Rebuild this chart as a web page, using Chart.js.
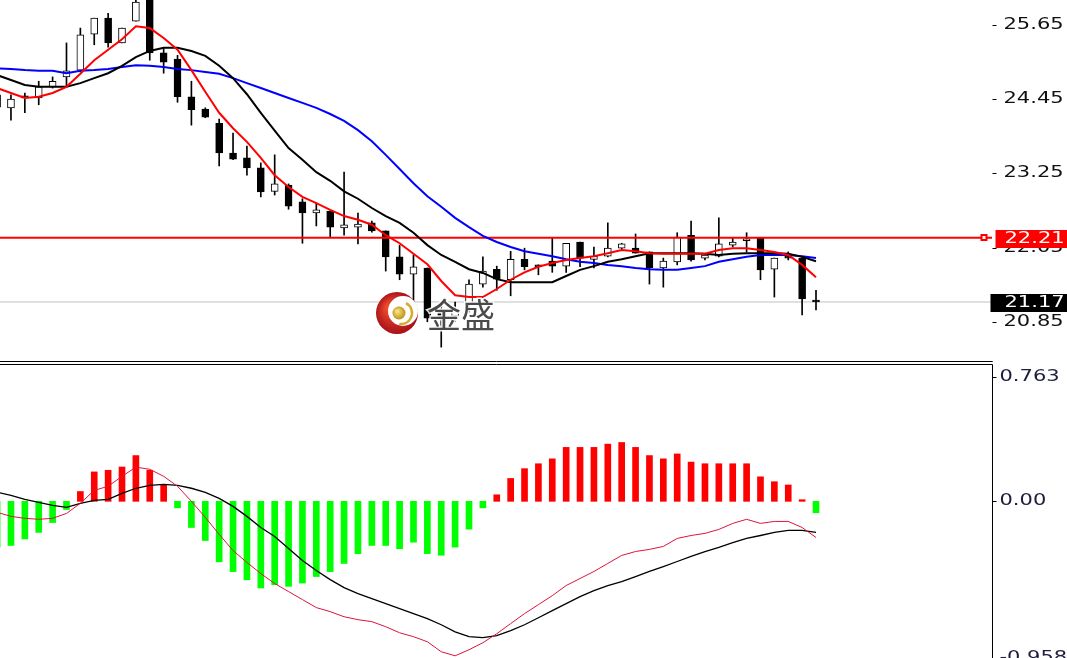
<!DOCTYPE html>
<html>
<head>
<meta charset="utf-8">
<script src="https://cdn.jsdelivr.net/npm/chart.js@4.4.1/dist/chart.umd.min.js"></script>
<style>
    html, body { margin: 0; padding: 0; background: #fff; overflow: hidden; width: 1067px; height: 658px; }
    #top { position: absolute; left: 0; top: 0; width: 1067px; height: 362px; }
    #bot { position: absolute; left: 0; top: 363px; width: 1067px; height: 330px; }
</style>
</head>
<body>
<div id="top"><canvas id="price"></canvas></div>
<div id="bot"><canvas id="macd"></canvas></div>
<script>
// ===== Data (one entry per candle, oldest first) =====
const opens  = [24.52,24.31,24.50,24.47,24.65,24.81,24.92,25.50,25.76,25.36, 25.71,26.18,25.20,25.10,24.49,24.29,24.06,23.58,23.50,23.34,
                22.96,23.06,22.79,22.61,22.64,22.37,22.38,22.45,22.32,21.90, 21.62,21.72,21.04,20.94,21.14,21.46,21.70,21.53,21.86,21.75,
                21.83,21.75,22.14,21.86,21.91,22.04,22.04,21.98,21.72,21.82, 22.25,21.88,21.91,22.09,22.16,22.20,21.70,21.90,21.88,21.19];
const highs  = [24.60,24.52,24.55,24.74,24.81,25.36,25.60,25.76,25.84,25.60, 26.14,26.22,25.28,25.16,24.74,24.31,24.13,23.90,23.69,23.42,
                23.55,23.08,22.84,22.77,22.64,23.27,22.61,22.48,22.32,22.09, 21.93,21.72,21.12,21.17,21.53,21.90,21.75,21.99,22.04,21.77,
                22.20,22.12,22.14,22.06,22.45,22.12,22.27,21.98,21.88,22.29, 22.48,21.95,22.53,22.20,22.29,22.20,21.88,21.98,21.88,21.36];
const lows   = [24.24,24.11,24.23,24.36,24.63,24.65,24.89,25.33,25.29,25.36, 25.71,25.08,24.87,24.40,24.03,24.15,23.37,23.47,23.22,22.87,
                22.90,22.67,22.12,22.40,22.22,22.25,22.11,22.30,21.67,21.53, 21.17,20.85,20.44,20.85,21.01,21.41,21.36,21.27,21.69,21.61,
                21.65,21.65,21.74,21.72,21.90,22.03,21.96,21.46,21.41,21.77, 21.83,21.85,21.90,22.06,21.98,21.53,21.25,21.85,20.96,21.04];
const closes = [24.32,24.45,24.47,24.65,24.74,24.91,25.49,25.76,25.36,25.60, 26.02,25.20,25.05,24.49,24.28,24.16,23.58,23.48,23.34,22.95,
                23.08,22.72,22.61,22.66,22.38,22.42,22.43,22.32,21.90,21.62, 21.74,20.91,20.91,21.04,21.46,21.67,21.54,21.86,21.74,21.74,
                21.75,22.12,21.88,21.91,22.04,22.11,21.96,21.72,21.83,22.22, 21.85,21.93,22.11,22.14,22.17,21.69,21.88,21.88,21.22,21.17];

// moving averages (red = fast, black = middle, blue = slow)
const maRed   = [24.63,24.55,24.47,24.49,24.55,24.65,24.86,25.08,25.25,25.42, 25.63,25.60,25.44,25.25,24.92,24.57,24.23,23.98,23.76,23.50,
                 23.22,23.03,22.87,22.77,22.66,22.56,22.50,22.42,22.25,22.12, 21.95,21.78,21.51,21.28,21.25,21.25,21.38,21.53,21.65,21.74,
                 21.80,21.85,21.88,21.91,21.96,22.01,21.99,21.96,21.95,21.95, 21.95,21.95,22.01,22.04,22.04,22.01,21.98,21.93,21.77,21.57];
const maBlack = [24.84,24.76,24.68,24.65,24.65,24.65,24.71,24.79,24.87,24.99, 25.13,25.23,25.28,25.28,25.23,25.15,24.99,24.79,24.53,24.23,
                 23.94,23.66,23.47,23.27,23.13,22.96,22.84,22.69,22.56,22.45, 22.29,22.09,21.93,21.82,21.70,21.64,21.54,21.49,21.49,21.49,
                 21.49,21.59,21.69,21.75,21.82,21.86,21.91,21.96,21.96,21.96, 21.96,21.95,21.93,21.95,21.96,21.96,21.96,21.95,21.90,21.83];
const maBlue  = [24.95,24.94,24.92,24.91,24.91,24.87,24.91,24.92,24.94,24.97, 25.00,24.99,24.97,24.94,24.92,24.89,24.86,24.79,24.71,24.63,
                 24.55,24.47,24.39,24.31,24.21,24.10,23.95,23.77,23.55,23.32, 23.09,22.88,22.71,22.53,22.38,22.24,22.14,22.06,21.99,21.95,
                 21.91,21.86,21.82,21.80,21.77,21.75,21.72,21.70,21.69,21.69, 21.72,21.75,21.82,21.86,21.90,21.93,21.93,21.93,21.91,21.88];

// MACD panel
const macdHist  = [-0.28,-0.27,-0.23,-0.19,-0.13,-0.05,0.06,0.18,0.19,0.21, 0.28,0.19,0.10,-0.04,-0.16,-0.24,-0.37,-0.43,-0.48,-0.53,
                   -0.51,-0.52,-0.50,-0.46,-0.43,-0.38,-0.32,-0.27,-0.27,-0.29, -0.25,-0.32,-0.33,-0.28,-0.17,-0.04,0.04,0.14,0.20,0.23,
                   0.26,0.33,0.33,0.33,0.35,0.36,0.33,0.28,0.26,0.29, 0.24,0.23,0.23,0.23,0.23,0.15,0.12,0.10,0.01,-0.07];
const macdBlack = [0.055,0.037,0.012,-0.006,-0.025,-0.037,-0.012,0.006,0.012,0.049, 0.080,0.098,0.104,0.098,0.080,0.055,0.018,-0.031,-0.092,-0.160,
                   -0.215,-0.288,-0.362,-0.423,-0.479,-0.528,-0.564,-0.595,-0.626,-0.656, -0.687,-0.718,-0.755,-0.798,-0.828,-0.834,-0.822,-0.791,-0.755,-0.712,
                   -0.669,-0.626,-0.583,-0.546,-0.515,-0.491,-0.460,-0.429,-0.399,-0.368, -0.337,-0.307,-0.282,-0.252,-0.227,-0.209,-0.190,-0.178,-0.178,-0.190];
const macdRed   = [-0.067,-0.092,-0.104,-0.110,-0.104,-0.074,-0.012,0.067,0.092,0.153, 0.209,0.196,0.153,0.092,0.000,-0.098,-0.202,-0.301,-0.374,-0.442,
                   -0.503,-0.552,-0.601,-0.650,-0.675,-0.706,-0.724,-0.736,-0.767,-0.804, -0.828,-0.859,-0.920,-0.945,-0.908,-0.865,-0.810,-0.748,-0.687,-0.632,
                   -0.577,-0.515,-0.472,-0.429,-0.380,-0.331,-0.307,-0.294,-0.276,-0.227, -0.209,-0.196,-0.172,-0.135,-0.110,-0.135,-0.123,-0.123,-0.160,-0.221];

const priceTicks = [25.65, 24.45, 23.25, 22.05, 20.85];
const macdTicks = [0.763, 0, -0.958];
const macdTickLabels = ['0.763', '0.00', '-0.958'];
const levelLine = 22.21;   // red horizontal line
const lastPrice = 21.17;   // grey bid line

const slots = opens.map((_, i) => i);
const X_MIN = 0.21, X_MAX = 71.68;

// ===== helpers =====
function pts(values) {
    return slots.map(i => ({ x: i, y: values[i] }));
}

function stretchText(ctx, text, x, y, color) {
    ctx.save();
    ctx.translate(x, y);
    ctx.scale(1.4, 1);
    ctx.fillStyle = color;
    ctx.fillText(text, 0, 0);
    ctx.restore();
}

// right price axis drawn in the terminal style (wide digits, short ticks, price tags)
const rightAxis = {
    id: 'rightAxis',
    afterDraw(chart, args, opts) {
        const ctx = chart.ctx;
        const s = chart.scales.y;
        const x0 = Math.round(s.left) + 0.5;
        ctx.save();
        ctx.strokeStyle = '#000';
        ctx.lineWidth = 1;
        ctx.beginPath();
        ctx.moveTo(0, opts.sepY);
        ctx.lineTo(x0, opts.sepY);
        ctx.moveTo(x0, opts.sepY);
        ctx.lineTo(x0, chart.height);
        ctx.stroke();

        ctx.font = '15px "DejaVu Sans"';
        ctx.textBaseline = 'middle';
        s.ticks.forEach((t, i) => {
            const y = Math.round(s.getPixelForValue(t.value)) + 0.5;
            ctx.beginPath();
            ctx.moveTo(x0, y);
            ctx.lineTo(x0 + 4, y);
            ctx.stroke();
            stretchText(ctx, opts.labels[i], x0 + opts.gap, y, opts.color);
        });

        (opts.tags || []).forEach(tag => {
            const y = Math.round(s.getPixelForValue(tag.value)) + 1;
            ctx.fillStyle = tag.bg;
            ctx.fillRect(x0 + tag.dx, y - 9, chart.width - x0 - tag.dx, 18);
            stretchText(ctx, tag.value.toFixed(2), x0 + 12, y, '#fff');
            if (tag.marker) {
                ctx.fillStyle = '#fff';
                ctx.strokeStyle = tag.bg;
                ctx.lineWidth = 2;
                ctx.fillRect(x0 - 11, y - 4, 5, 5);
                ctx.strokeRect(x0 - 11, y - 4, 5, 5);
            }
        });
        ctx.restore();
    }
};

// 金盛 watermark
const watermark = {
    id: 'watermark',
    afterDatasetsDraw(chart) {
        const ctx = chart.ctx;
        const cx = 397, cy = 313;
        ctx.save();
        const g = ctx.createRadialGradient(cx - 8, cy - 6, 3, cx, cy, 22);
        g.addColorStop(0, '#ee4a2c');
        g.addColorStop(1, '#a50f18');
        ctx.fillStyle = g;
        ctx.beginPath();
        ctx.arc(cx, cy, 21, 0, Math.PI * 2);
        ctx.fill();
        ctx.fillStyle = '#fff';
        ctx.beginPath();
        ctx.arc(cx + 6, cy - 2, 15, 0, Math.PI * 2);
        ctx.fill();
        ctx.strokeStyle = '#d6ac2e';
        ctx.lineWidth = 2.5;
        ctx.beginPath();
        ctx.arc(cx + 4, cy, 11, -Math.PI * 0.35, Math.PI * 0.55);
        ctx.stroke();
        const g2 = ctx.createRadialGradient(cx, cy - 2, 1, cx + 2, cy, 7);
        g2.addColorStop(0, '#f7e37a');
        g2.addColorStop(1, '#b88d18');
        ctx.fillStyle = g2;
        ctx.beginPath();
        ctx.arc(cx + 2, cy, 6.5, 0, Math.PI * 2);
        ctx.fill();

        ctx.font = '34px "Noto Sans CJK SC"';
        ctx.textBaseline = 'middle';
        ctx.lineWidth = 3;
        ctx.strokeStyle = 'rgba(255,255,255,0.9)';
        ctx.strokeText('金盛', 427, 315);
        ctx.fillStyle = '#4a4a4a';
        ctx.fillText('金盛', 427, 315);
        ctx.restore();
    }
};

const hiddenX = { type: 'linear', min: X_MIN, max: X_MAX, offset: false, display: false };

// ===== price panel =====
new Chart(document.getElementById('price'), {
    type: 'bar',
    data: {
        datasets: [
            {
                type: 'line', data: [{ x: X_MIN, y: lastPrice }, { x: X_MAX, y: lastPrice }],
                borderColor: '#c0c0c0', borderWidth: 1, pointRadius: 0, order: 10
            },
            {
                label: 'wick', grouped: false, order: 9,
                data: slots.map(i => ({ x: i, y: [lows[i], highs[i]] })),
                backgroundColor: '#000', barThickness: 1, borderWidth: 0
            },
            {
                label: 'body', grouped: false, order: 8,
                data: slots.map(i => ({ x: i, y: [opens[i], closes[i]] })),
                backgroundColor: c => closes[c.dataIndex] > opens[c.dataIndex] ? '#fff' : '#000',
                borderColor: '#000', borderWidth: 1, borderSkipped: false,
                barThickness: 7, minBarLength: 2
            },
            {
                type: 'line', data: [{ x: X_MIN, y: levelLine }, { x: X_MAX, y: levelLine }],
                borderColor: '#ff0000', borderWidth: 2, pointRadius: 0, order: 7
            },
            { type: 'line', data: pts(maBlue), borderColor: '#0000ff', borderWidth: 2, pointRadius: 0, order: 3 },
            { type: 'line', data: pts(maBlack), borderColor: '#000', borderWidth: 2, pointRadius: 0, order: 2 },
            { type: 'line', data: pts(maRed), borderColor: '#ff0000', borderWidth: 2, pointRadius: 0, order: 1 }
        ]
    },
    options: {
        responsive: true,
        maintainAspectRatio: false,
        animation: false,
        events: [],
        layout: { padding: { left: 0, right: 0, top: 0, bottom: 2 }, autoPadding: false },
        scales: {
            x: hiddenX,
            y: {
                position: 'right', min: 20.232, max: 26.054,
                grid: { display: false }, border: { display: false },
                ticks: { display: false },
                afterBuildTicks: s => { s.ticks = priceTicks.map(v => ({ value: v })); },
                afterFit: s => { s.width = 75; }
            }
        },
        plugins: {
            legend: { display: false },
            tooltip: { enabled: false },
            rightAxis: {
                labels: priceTicks.map(v => v.toFixed(2)), color: '#111', gap: 11, sepY: 361.5,
                tags: [
                    { value: levelLine, bg: '#ff0000', dx: 3, marker: true },
                    { value: lastPrice, bg: '#000', dx: -2 }
                ]
            }
        }
    },
    plugins: [rightAxis, watermark]
});

// ===== MACD panel =====
new Chart(document.getElementById('macd'), {
    type: 'bar',
    data: {
        datasets: [
            {
                grouped: false, order: 5,
                data: slots.map(i => ({ x: i, y: macdHist[i] })),
                backgroundColor: c => macdHist[c.dataIndex] >= 0 ? '#ff0000' : '#00ff00',
                barThickness: 6, borderWidth: 0
            },
            { type: 'line', data: pts(macdBlack), borderColor: '#000', borderWidth: 1.3, pointRadius: 0, order: 2 },
            { type: 'line', data: pts(macdRed), borderColor: '#dc143c', borderWidth: 1, pointRadius: 0, order: 1 }
        ]
    },
    options: {
        responsive: true,
        maintainAspectRatio: false,
        animation: false,
        events: [],
        layout: { padding: { left: 0, right: 0, top: 2, bottom: 13 }, autoPadding: false },
        scales: {
            x: hiddenX,
            y: {
                position: 'right', min: -1.093, max: 0.834,
                grid: { display: false }, border: { display: false },
                ticks: { display: false },
                afterBuildTicks: s => { s.ticks = macdTicks.map(v => ({ value: v })); },
                afterFit: s => { s.width = 75; }
            }
        },
        plugins: {
            legend: { display: false },
            tooltip: { enabled: false },
            rightAxis: { labels: macdTickLabels, color: '#1e1e3c', gap: 7, sepY: 1.5 }
        }
    },
    plugins: [rightAxis]
});
</script>
</body>
</html>
